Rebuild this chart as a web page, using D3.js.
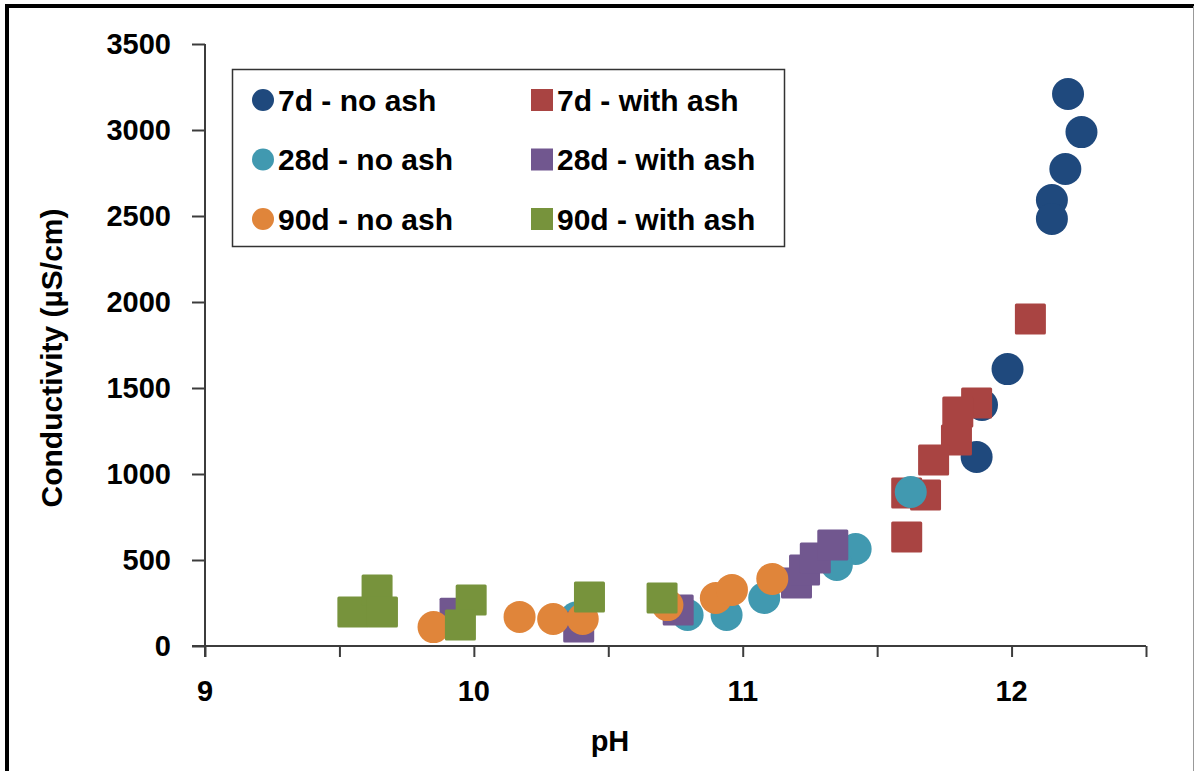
<!DOCTYPE html>
<html>
<head>
<meta charset="utf-8">
<script src="https://cdn.jsdelivr.net/npm/d3@7"></script>
<style>
  body { margin: 0; background: #fff; }
  text { font-family: "Liberation Sans", Arial, sans-serif; font-weight: bold; fill: #000; }
</style>
</head>
<body>
<div id="svg"></div>
<script>
// series values (pH, conductivity in µS/cm)
const noAsh7d = [[12.21, 3209], [12.26, 2988], [12.20, 2773], [12.15, 2593], [12.15, 2483],
                 [11.985, 1610], [11.89, 1401], [11.87, 1099]];
const withAsh7d = [[12.07, 1901], [11.87, 1413], [11.80, 1360], [11.795, 1198], [11.71, 1081],
                   [11.61, 890], [11.68, 878], [11.61, 634]];
const noAsh28d = [[11.625, 895], [11.42, 564], [11.35, 471], [11.08, 279], [10.94, 180],
                  [10.795, 180], [10.38, 165]];
const withAsh28d = [[10.39, 110], [10.76, 209], [11.20, 366], [11.23, 442], [11.27, 512],
                    [11.335, 587], [9.93, 190]];
const noAsh90d = [[9.85, 110], [10.17, 169], [10.295, 157], [10.405, 157], [10.72, 238],
                  [10.90, 279], [10.96, 326], [11.11, 390]];
const withAsh90d = [[9.55, 198], [9.64, 326], [9.66, 198], [9.99, 267], [9.95, 122],
                    [10.43, 285], [10.70, 279]];

const seriesNames = ['7d - no ash', '7d - with ash', '28d - no ash', '28d - with ash', '90d - no ash', '90d - with ash'];
const seriesData = [noAsh7d, withAsh7d, noAsh28d, withAsh28d, noAsh90d, withAsh90d];
const seriesShape = ['circle', 'square', 'circle', 'square', 'circle', 'square'];
const seriesColor = ['#1f497d', '#a94442', '#4199b0', '#71578f', '#e0853a', '#77933c'];

const xTicks = [9, 9.5, 10, 10.5, 11, 11.5, 12, 12.5];
const xTickLabels = [9, 10, 11, 12];
const yTicks = [0, 500, 1000, 1500, 2000, 2500, 3000, 3500];

function makeGraph(){
    let w = 1198;
    let h = 771;

    let svg = d3.select('#svg').append('svg').attr('width', w).attr('height', h);

    // outer frame
    svg.append('line').attr('x1', 7).attr('y1', 6).attr('x2', 7).attr('y2', h)
      .attr('stroke', '#000').attr('stroke-width', 4);
    svg.append('line').attr('x1', 5).attr('y1', 6).attr('x2', 1194).attr('y2', 6)
      .attr('stroke', '#000').attr('stroke-width', 4);
    svg.append('line').attr('x1', 1193.5).attr('y1', 6).attr('x2', 1193.5).attr('y2', h)
      .attr('stroke', '#999').attr('stroke-width', 1);

    let xScale = d3.scaleLinear().domain([9, 12.5]).range([205, 1146]);
    let yScale = d3.scaleLinear().domain([0, 3500]).range([646, 44]);

    // axes
    let xAxis = d3.axisBottom(xScale).tickValues(xTicks).tickSize(11).tickFormat('');
    let xAxisGroup = svg.append('g')
                    .attr('transform', `translate(0, 646)`)
                    .call(xAxis);
    let yAxis = d3.axisLeft(yScale).tickValues(yTicks).tickSize(13).tickFormat('');
    let yAxisGroup = svg.append('g')
                    .attr('transform', `translate(205, 0)`)
                    .call(yAxis);
    [xAxisGroup, yAxisGroup].forEach(g => {
      g.selectAll('path, line').attr('stroke', '#3c3c3c').attr('stroke-width', 2);
    });
    xAxisGroup.select('.domain').attr('d', 'M192,0H1146');
    yAxisGroup.select('.domain').attr('d', 'M0,44V657');

    svg.selectAll('.xlab')
      .data(xTickLabels)
      .enter()
        .append('text')
        .attr('x', d => xScale(d))
        .attr('y', 701)
        .attr('text-anchor', 'middle')
        .style('font-size', '29px')
        .text(d => d);

    svg.selectAll('.ylab')
      .data(yTicks)
      .enter()
        .append('text')
        .attr('x', 171)
        .attr('y', d => yScale(d) + 10)
        .attr('text-anchor', 'end')
        .style('font-size', '29px')
        .text(d => d);

    // points, drawn in legend order
    const r = 16;
    const side = 31;
    seriesData.forEach((data, i) => {
      let g = svg.append('g');
      if (seriesShape[i] === 'circle') {
        g.selectAll('circle')
          .data(data)
          .enter()
            .append('circle')
            .attr('cx', d => xScale(d[0]))
            .attr('cy', d => yScale(d[1]))
            .attr('r', r)
            .style('fill', seriesColor[i]);
      } else {
        g.selectAll('rect')
          .data(data)
          .enter()
            .append('rect')
            .attr('x', d => xScale(d[0]) - side / 2)
            .attr('y', d => yScale(d[1]) - side / 2)
            .attr('width', side)
            .attr('height', side)
            .attr('rx', 1.5)
            .style('fill', seriesColor[i]);
      }
    });

    // legend
    let legend = svg.append('g');
    legend.append('rect')
      .attr('x', 232.5).attr('y', 69.5)
      .attr('width', 552).attr('height', 177)
      .attr('fill', '#fff')
      .attr('stroke', '#333').attr('stroke-width', 1.5);

    seriesNames.forEach((name, i) => {
      let col = i % 2;
      let row = Math.floor(i / 2);
      let cy = 100 + row * 59.5;
      let mx = col === 0 ? 263 : 542;
      if (seriesShape[i] === 'circle') {
        legend.append('circle').attr('cx', mx).attr('cy', cy).attr('r', 11)
          .style('fill', seriesColor[i]);
      } else {
        legend.append('rect').attr('x', mx - 11).attr('y', cy - 11)
          .attr('width', 22).attr('height', 22)
          .style('fill', seriesColor[i]);
      }
      legend.append('text')
        .attr('x', mx + 15)
        .attr('y', cy + 10.5)
        .style('font-size', '30px')
        .text(name);
    });

    svg.append('text')
      .attr('transform', 'rotate(-90)')
      .attr('x', -358)
      .attr('y', 62)
      .attr('text-anchor', 'middle')
      .style('font-size', '30px')
      .text('Conductivity (µS/cm)');

    svg.append('text')
      .attr('x', 610)
      .attr('y', 751)
      .attr('text-anchor', 'middle')
      .style('font-size', '29px')
      .text('pH');
}

window.onload = function(){
    makeGraph();
}
</script>
</body>
</html>
